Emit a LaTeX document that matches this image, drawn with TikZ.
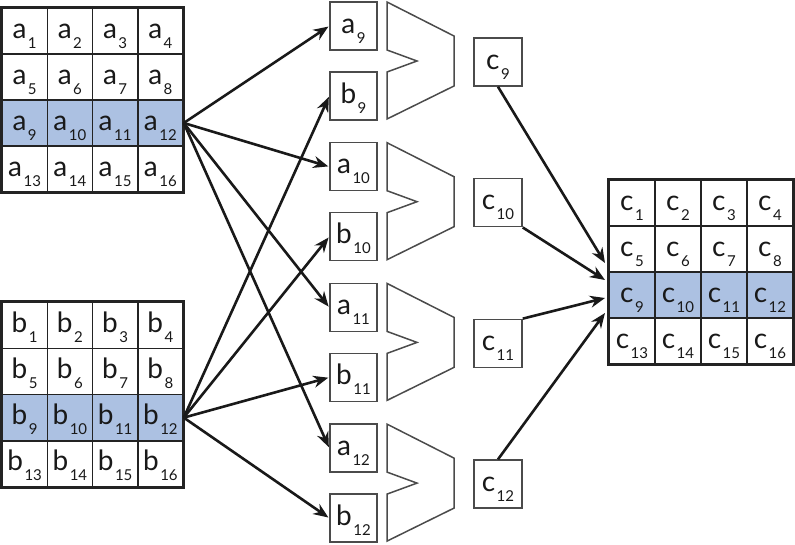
\documentclass[tikz,border=0pt]{standalone}
\usepackage{fontspec}
\setmainfont{Lato}
\usetikzlibrary{arrows.meta}
\definecolor{rowblue}{RGB}{172,193,226}
\definecolor{gridc}{RGB}{35,35,35}
\definecolor{boxc}{RGB}{75,75,75}
\definecolor{arrc}{RGB}{25,25,25}
\newcommand{\lbl}[2]{{\fontsize{28}{28}\selectfont #1}\kern1.5pt\raisebox{-10pt}{\fontsize{15}{15}\selectfont #2}}
\tikzset{
  cellbox/.style={draw=gridc, line width=1.5pt, inner sep=0pt, text height=14pt, text depth=0pt, text=black!90},
  smallbox/.style={draw=boxc, line width=1.5pt, fill=white, inner sep=0pt, minimum width=47pt, minimum height=48pt, text height=14pt, text depth=0pt, text=black!90},
  outerframe/.style={draw=gridc, line width=3pt},
  adder/.style={draw=boxc, line width=1.5pt, line join=miter},
  arr/.style={draw=arrc, line width=2.6pt, -{Stealth[length=15pt,width=12pt]}, shorten >=1pt},
}
\begin{document}
\begin{tikzpicture}[x=1pt,y=-1pt]
\useasboundingbox (0,0) rectangle (795,544);
% matrices
\foreach \r in {1,...,4}{
  \foreach \c in {1,...,4}{
    \pgfmathtruncatemacro\n{(\r-1)*4+\c}
    \ifnum\r=3 \def\fc{rowblue}\else\def\fc{white}\fi
    \node[cellbox, fill=\fc, minimum width=45.25pt, minimum height=46pt] (A\n) at ({2+45.25*(\c-0.5)},{8+46*(\r-0.5)}) {\lbl{a}{\n}};
    \node[cellbox, fill=\fc, minimum width=45.25pt, minimum height=46.25pt] (B\n) at ({2+45.25*(\c-0.5)},{302+46.25*(\r-0.5)}) {\lbl{b}{\n}};
    \node[cellbox, fill=\fc, minimum width=46pt, minimum height=46pt] (C\n) at ({609+46*(\c-0.5)},{180+46*(\r-0.5)}) {\lbl{c}{\n}};
  }
}
\draw[outerframe] (A1.north west) rectangle (A16.south east);
\draw[outerframe] (B1.north west) rectangle (B16.south east);
\draw[outerframe] (C1.north west) rectangle (C16.south east);
% pairs, adders, results
\foreach \k/\i in {9/0,10/1,11/2,12/3}{
  \pgfmathsetmacro\t{2+140.7*\i}
  \node[smallbox] (pa\k) at (353.5,{\t+24}) {\lbl{a}{\k}};
  \node[smallbox] (pb\k) at (353.5,{\t+94}) {\lbl{b}{\k}};
  \draw[adder] (387,\t) -- (454,{\t+34}) -- (454,{\t+84}) -- (387,{\t+117}) -- (387,{\t+70}) -- (417,{\t+59}) -- (387,{\t+48}) -- cycle;
  \node[smallbox, minimum width=48pt] (pc\k) at (498,{\t+60}) {\lbl{c}{\k}};
}
% arrows from A and B
\foreach \k in {9,10,11,12}{
  \draw[arr] (A12.east) -- (pa\k.west);
  \draw[arr] (B12.east) -- (pb\k.west);
}
% arrows into C
\coordinate (t9) at (605,263);
\coordinate (t10) at (605,280);
\coordinate (t11) at (605,298);
\coordinate (t12) at (605,313);
\draw[arr, shorten >=0pt] (pc9.south) -- (t9);
\draw[arr, shorten >=0pt] (pc10.south east) -- (t10);
\draw[arr, shorten >=0pt] (pc11.north east) -- (t11);
\draw[arr, shorten >=0pt] (pc12.north) -- (t12);
\end{tikzpicture}
\end{document}
